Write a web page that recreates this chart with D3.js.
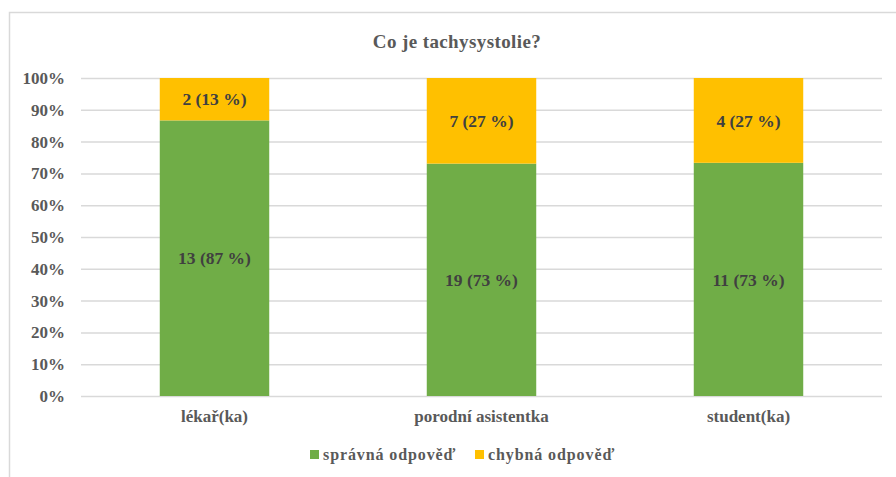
<html>
<head>
  <script src="https://d3js.org/d3.v7.min.js"></script>
  <style>
    body { margin: 0; background: #fff; font-family: 'Liberation Serif', 'Times New Roman', serif; }
    .grid line { stroke: #d9d9d9; stroke-width: 1.5; }
  </style>
</head>
<body>
  <svg id="chart" width="896" height="477"></svg>
  <script>
    // data
    const categories = ["lékař(ka)", "porodní asistentka", "student(ka)"];
    const correct = [13, 19, 11];
    const wrong = [2, 7, 4];
    const seriesNames = ["správná odpověď", "chybná odpověď"];
    const colors = ["#70ad47", "#ffc000"];
    const yTicks = [0, 0.1, 0.2, 0.3, 0.4, 0.5, 0.6, 0.7, 0.8, 0.9, 1];

    const serif = "'Liberation Serif', 'Times New Roman', serif";
    const svg = d3.select("#chart");
    const margin = { top: 78, left: 81, right: 14, bottom: 81 };
    const W = 896, H = 477;

    // chart border (cropped at right/bottom)
    svg.append("rect")
      .attr("x", 9.5).attr("y", 12.5)
      .attr("width", 900).attr("height", 500)
      .attr("fill", "none").attr("stroke", "#d9d9d9").attr("stroke-width", 1.5);

    svg.append("text")
      .attr("x", 457).attr("y", 48)
      .attr("text-anchor", "middle")
      .attr("font-family", serif)
      .attr("font-size", "19px").attr("font-weight", "bold")
      .attr("letter-spacing", "0.4px")
      .attr("fill", "#595959")
      .text("Co je tachysystolie?");

    const x = d3.scaleBand().domain(categories)
      .range([margin.left, W - margin.right]).paddingInner(0.59).paddingOuter(0.295);
    const y = d3.scaleLinear().domain([0, 1]).range([H - margin.bottom, margin.top]);

    // gridlines
    svg.append("g").attr("class", "grid")
      .attr("transform", `translate(${margin.left},0)`)
      .call(d3.axisLeft(y).tickValues(yTicks).tickSize(-(W - margin.left - margin.right)).tickFormat(""))
      .call(g => g.select(".domain").remove());

    // y tick labels
    svg.append("g")
      .attr("transform", `translate(${margin.left},0)`)
      .call(d3.axisLeft(y).tickValues(yTicks).tickSize(0).tickPadding(16).tickFormat(d3.format(".0%")))
      .call(g => g.select(".domain").remove())
      .call(g => g.selectAll("text")
        .attr("font-family", serif)
        .attr("font-size", "17px").attr("font-weight", "bold").attr("fill", "#595959"));

    // stacked data
    const rows = categories.map((c, i) => {
      const total = correct[i] + wrong[i];
      return { cat: c, vals: [correct[i], wrong[i]], total: total };
    });

    rows.forEach(r => {
      let acc = 0;
      r.vals.forEach((v, k) => {
        const y0 = acc / r.total, y1 = (acc + v) / r.total;
        acc += v;
        svg.append("rect")
          .attr("x", x(r.cat)).attr("width", x.bandwidth())
          .attr("y", y(y1)).attr("height", y(y0) - y(y1))
          .attr("fill", colors[k]);
        svg.append("text")
          .attr("x", x(r.cat) + x.bandwidth() / 2)
          .attr("y", (y(y0) + y(y1)) / 2)
          .attr("dy", "0.35em")
          .attr("text-anchor", "middle")
          .attr("font-family", serif)
          .attr("font-size", "17.5px").attr("font-weight", "bold")
          .attr("fill", "#404040")
          .text(`${v} (${Math.round(v / r.total * 100)} %)`);
      });
    });

    // category labels
    svg.append("g")
      .attr("transform", `translate(0,${H - margin.bottom})`)
      .call(d3.axisBottom(x).tickSize(0).tickPadding(14))
      .call(g => g.select(".domain").remove())
      .call(g => g.selectAll("text")
        .attr("font-family", serif)
        .attr("font-size", "17px").attr("font-weight", "bold").attr("fill", "#595959"));

    // legend
    const legX = [310, 475];
    seriesNames.forEach((n, i) => {
      svg.append("rect").attr("x", legX[i]).attr("y", 450)
        .attr("width", 9).attr("height", 9).attr("fill", colors[i]);
      svg.append("text").attr("x", legX[i] + 13).attr("y", 460)
        .attr("font-family", serif)
        .attr("font-size", "16px").attr("font-weight", "bold")
        .attr("letter-spacing", "0.9px")
        .attr("fill", "#595959").text(n);
    });
  </script>
</body>
</html>
